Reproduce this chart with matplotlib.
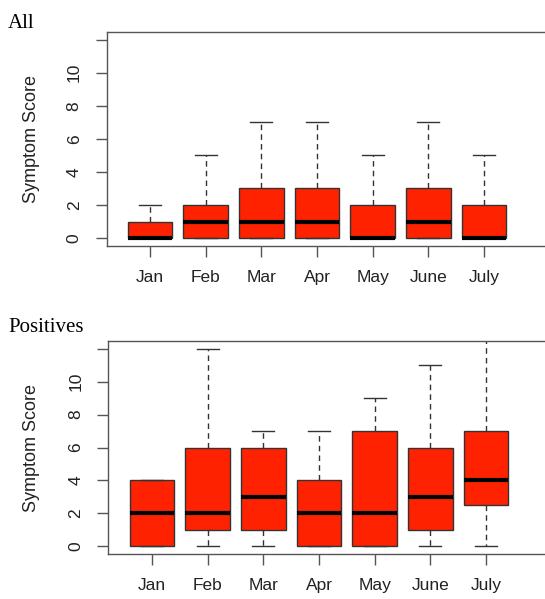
import matplotlib
matplotlib.use('Agg')
import matplotlib.pyplot as plt

plt.rcParams.update({
    'font.family': ['Liberation Sans', 'DejaVu Sans'],
    'font.size': 12.5,
    'savefig.bbox': 'standard',
})

months = ["Jan", "Feb", "Mar", "Apr", "May", "June", "July"]

# panel "All": lower whisker, q1, median, q3, upper whisker
all_lo = [0, 0, 0, 0, 0, 0, 0]
all_q1 = [0, 0, 0, 0, 0, 0, 0]
all_med = [0, 1, 1, 1, 0, 1, 0]
all_q3 = [1, 2, 3, 3, 2, 3, 2]
all_hi = [2, 5, 7, 7, 5, 7, 5]

# panel "Positives"
pos_lo = [0, 0, 0, 0, 0, 0, 0]
pos_q1 = [0, 1, 1, 0, 0, 1, 2.5]
pos_med = [2, 2, 3, 2, 2, 3, 4]
pos_q3 = [4, 6, 6, 4, 7, 6, 7]
pos_hi = [4, 12, 7, 7, 9, 11, 13]

FILL = '#ff2200'
EDGE = '#333333'
FRAME = '#555555'
W, H = 545, 599
RIGHT_PX = 620   # frame runs past the right edge of the picture (cropped)


def make_stats(lo, q1, med, q3, hi):
    return [dict(whislo=a, q1=b, med=c, q3=d, whishi=e, fliers=[])
            for a, b, c, d, e in zip(lo, q1, med, q3, hi)]


def draw_panel(ax, stats, title, title_y, jan_px, left_px):
    pos = list(range(1, len(months) + 1))
    ax.bxp(stats, positions=pos, widths=0.8, capwidths=0.4,
           patch_artist=True, showfliers=False,
           boxprops=dict(facecolor=FILL, edgecolor=EDGE, linewidth=1.0),
           medianprops=dict(color='black', linewidth=3.0, solid_capstyle='butt'),
           whiskerprops=dict(color=EDGE, linewidth=1.0, linestyle=(0, (4, 3))),
           capprops=dict(color=EDGE, linewidth=1.0))

    spacing = 55.67
    ax.set_xlim(1 - (jan_px - left_px) / spacing, 1 + (RIGHT_PX - jan_px) / spacing)
    ax.set_ylim(-0.48, 12.48)
    ax.set_xticks(pos)
    ax.set_xticklabels(months)
    ax.set_yticks(range(0, 13, 2))
    ax.set_yticklabels(['0', '2', '4', '6', '8', '10', ''])
    for lab in ax.get_yticklabels():
        lab.set_rotation(90)
        lab.set_va('center')
    ax.tick_params(axis='both', length=8, width=1.0, color=FRAME,
                   labelcolor='#222222', labelsize=12.5)
    ax.tick_params(axis='x', pad=9)
    ax.tick_params(axis='y', pad=10)
    for sp in ax.spines.values():
        sp.set_color(FRAME)
        sp.set_linewidth(1.0)
    ax.spines['right'].set_visible(False)

    ax.set_ylabel("Symptom Score", fontsize=13, color='#222222')
    ax.yaxis.label.set_va('center')
    ax.yaxis.set_label_coords((31 - left_px) / (RIGHT_PX - left_px), 0.5)

    fig.text(8 / W, 1 - title_y / H, title, family=['Liberation Serif'],
             fontsize=15, ha='left', va='baseline', color='black')


fig = plt.figure(figsize=(W / 100, H / 100), dpi=100)

ax1 = fig.add_axes([106.7 / W, 1 - 246 / H, (RIGHT_PX - 106.7) / W, (246 - 31.7) / H])
draw_panel(ax1, make_stats(all_lo, all_q1, all_med, all_q3, all_hi),
           "All", 28, 150, 106.7)

ax2 = fig.add_axes([108.3 / W, 1 - 554.3 / H, (RIGHT_PX - 108.3) / W, (554.3 - 340.7) / H])
draw_panel(ax2, make_stats(pos_lo, pos_q1, pos_med, pos_q3, pos_hi),
           "Positives", 332, 152, 108.3)

plt.savefig("out.png", dpi=100, bbox_inches=None)
plt.close()
